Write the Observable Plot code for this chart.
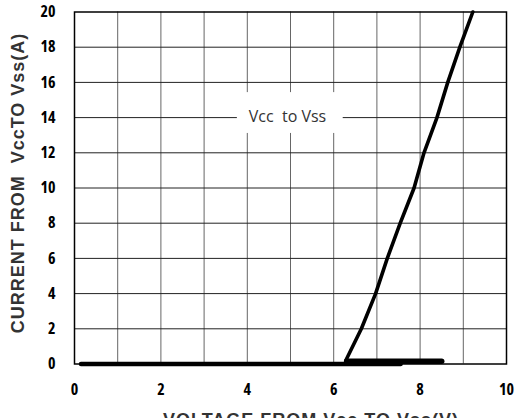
<!DOCTYPE html>
<html>
<head>
<meta charset="utf-8">
<script src="https://cdn.jsdelivr.net/npm/d3@7"></script>
<script src="https://cdn.jsdelivr.net/npm/@observablehq/plot@0.6"></script>
<style>
  html, body { margin: 0; padding: 0; background: #fff; overflow: hidden; }
  #chart { width: 519px; height: 418px; overflow: hidden; }
</style>
</head>
<body>
<div id="chart"></div>
<script>
// ---- data ----
const xTicks = [0, 2, 4, 6, 8, 10];
const xGrid = [1, 2, 3, 4, 5, 6, 7, 8, 9];
const yTicks = [0, 2, 4, 6, 8, 10, 12, 14, 16, 18, 20];
const yGrid = [2, 4, 6, 8, 10, 12, 14, 16, 18];

// off-state trace along zero current
const baseV = [0.15, 7.55];
const baseI = [0, 0];
// second thick trace near zero at turn-on
const flatV = [6.3, 8.5];
const flatI = [0.15, 0.15];
// conduction ramp
const riseV = [6.28, 6.64, 6.97, 7.24, 7.54, 7.86, 8.09, 8.39, 8.64, 8.92, 9.22];
const riseI = [0.2, 2.0, 4.0, 6.0, 8.0, 10.0, 12.0, 14.0, 16.0, 18.0, 20.0];

// annotation
const noteText = "Vcc  to Vss";
const noteX = 4.93;
const noteY = 14.05;
const noteBoxX = [3.77, 6.22];
const noteBoxY = [13.1, 15.42];

const yTitle = "CURRENT FROM  VccTO Vss(A)";
const xTitle = "VOLTAGE FROM Vcc TO Vss(V)";

// ---- build tables ----
const toRows = (vs, is) => vs.map((v, k) => ({v, i: is[k]}));
const base = toRows(baseV, baseI);
const flat = toRows(flatV, flatI);
const rise = toRows(riseV, riseI);

const W = 519, H = 430;
const tickFont = "'Open Sans', Arial, sans-serif";

const chart = Plot.plot({
  width: W,
  height: H,
  marginLeft: 74,
  marginRight: 13,
  marginTop: 11.5,
  marginBottom: 66.5,
  style: {fontFamily: tickFont, fontSize: "16px", fontWeight: "bold", color: "#000", background: "#fff"},
  x: {domain: [0, 10]},
  y: {domain: [0, 20]},
  marks: [
    Plot.gridX(xGrid, {stroke: "#666", strokeOpacity: 1, strokeWidth: 1}),
    Plot.gridY(yGrid, {stroke: "#222", strokeOpacity: 1, strokeWidth: 1}),
    Plot.rect([{x1: noteBoxX[0], x2: noteBoxX[1], y1: noteBoxY[0], y2: noteBoxY[1]}],
      {x1: "x1", x2: "x2", y1: "y1", y2: "y2", fill: "#fff"}),
    Plot.text([noteText], {x: noteX, y: noteY, text: d => d, fill: "#333",
      fontFamily: "'Open Sans', 'Liberation Sans', sans-serif", fontSize: 16, fontWeight: "normal"}),
    Plot.line(base, {x: "v", y: "i", stroke: "#000", strokeWidth: 4.5}),
    Plot.line(flat, {x: "v", y: "i", stroke: "#000", strokeWidth: 5.5}),
    Plot.line(rise, {x: "v", y: "i", stroke: "#000", strokeWidth: 3.6, strokeLinejoin: "round", strokeLinecap: "round"}),
    Plot.frame({stroke: "#000", strokeWidth: 1.5}),
    Plot.axisX({ticks: xTicks, tickSize: 0, tickPadding: 20, label: null, fill: "#000", fontSize: 16, fontWeight: "bold"}),
    Plot.axisY({ticks: yTicks, tickSize: 0, tickPadding: 19, label: null, fill: "#000", fontSize: 16, fontWeight: "bold"})
  ]
});

const svg = d3.select(chart);
svg.selectAll('g[aria-label="x-axis tick label"], g[aria-label="y-axis tick label"]')
  .style("font-stretch", "condensed");
svg.append("text")
  .attr("transform", "translate(24,183) rotate(-90)")
  .attr("text-anchor", "middle")
  .attr("font-family", "'Liberation Sans', Arial, sans-serif")
  .attr("font-weight", "bold")
  .attr("font-size", 18)
  .attr("letter-spacing", 1)
  .attr("fill", "#333")
  .text(yTitle);
svg.append("text")
  .attr("x", 163)
  .attr("y", 426)
  .attr("text-anchor", "start")
  .attr("font-family", "'Liberation Sans', Arial, sans-serif")
  .attr("font-weight", "bold")
  .attr("font-size", 18)
  .attr("letter-spacing", 1)
  .attr("fill", "#333")
  .text(xTitle);

document.getElementById("chart").appendChild(chart);
</script>
</body>
</html>
